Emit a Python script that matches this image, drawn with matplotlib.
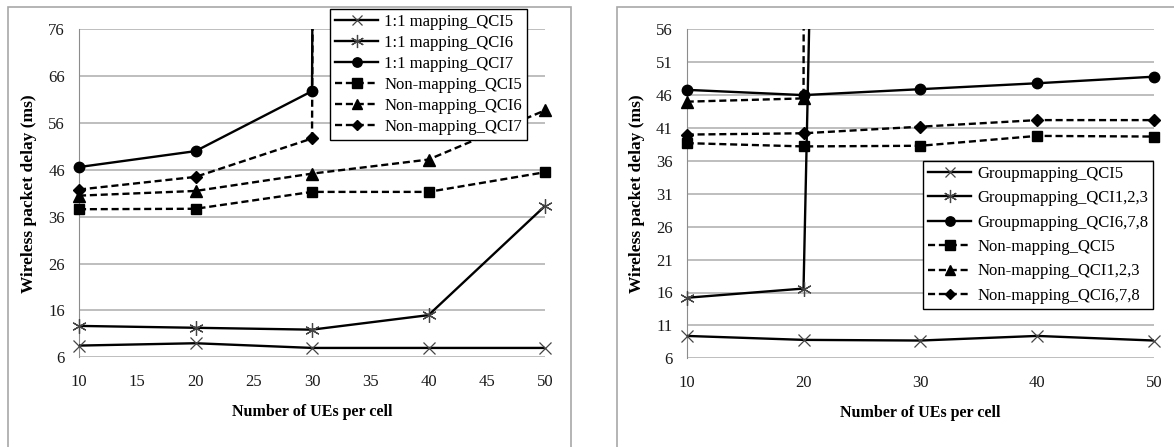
import matplotlib
matplotlib.use("Agg")
import matplotlib.pyplot as plt
from matplotlib.lines import Line2D
from matplotlib.patches import Rectangle

plt.rcParams["font.family"] = ["Liberation Serif", "DejaVu Serif"]

# left panel: 1:1 mapping vs non-mapping
ues_left = [10, 20, 30, 40, 50]
left_labels = ["1:1 mapping_QCI5", "1:1 mapping_QCI6", "1:1 mapping_QCI7",
               "Non-mapping_QCI5", "Non-mapping_QCI6", "Non-mapping_QCI7"]
map_qci5 = [8.5, 9.0, 8.0, 8.0, 8.0]
map_qci6 = [12.7, 12.3, 11.9, 15.0, 38.3]
map_qci7 = [46.6, 50.0, 62.8, 5000, 5000]     # off the chart after 30 UEs
non_qci5 = [37.6, 37.7, 41.3, 41.3, 45.5]
non_qci6 = [40.5, 41.5, 45.2, 48.2, 58.7]
non_qci7 = [41.8, 44.5, 52.7, 5000, 5000]     # off the chart after 30 UEs

# right panel: group mapping vs non-mapping
ues_right = [10, 20, 30, 40, 50]
right_labels = ["Groupmapping_QCI5", "Groupmapping_QCI1,2,3", "Groupmapping_QCI6,7,8",
                "Non-mapping_QCI5", "Non-mapping_QCI1,2,3", "Non-mapping_QCI6,7,8"]
grp_qci5 = [9.4, 8.8, 8.7, 9.4, 8.7]
grp_qci123 = [15.2, 16.6, 840, 840, 840]      # off the chart after 20 UEs
grp_qci678 = [46.8, 46.0, 46.9, 47.8, 48.8]
non2_qci5 = [38.7, 38.2, 38.3, 39.8, 39.7]
non2_qci123 = [45.0, 45.5, 9000, 9000, 9000]  # off the chart after 20 UEs
non2_qci678 = [40.0, 40.2, 41.2, 42.2, 42.2]

DASH = (0, (3.0, 1.6))
STYLES = [
    dict(ls="-", marker="x", ms=8.5, mew=0.9, mec="#444444"),
    dict(ls="-", marker=(6, 2, 0), ms=10.5, mew=0.9, mec="#444444"),
    dict(ls="-", marker="o", ms=7.5, mew=1, mec="black"),
    dict(ls=DASH, marker="s", ms=7.5, mew=1, mec="black"),
    dict(ls=DASH, marker="^", ms=8, mew=1, mec="black"),
    dict(ls=DASH, marker="D", ms=6, mew=1, mec="black"),
]
W, H = 1174, 447


def draw_panel(ax, x, series, labels, ylim, yticks, xticks, legend_anchor, rowgap):
    handles = []
    for y, lab, st in zip(series, labels, STYLES):
        ax.plot(x, y, color="black", lw=1.7, ls=st["ls"], zorder=3)
        xv = [a for a, b in zip(x, y) if b <= ylim[1]]
        yv = [b for b in y if b <= ylim[1]]
        ax.plot(xv, yv, ls="none", marker=st["marker"], ms=st["ms"], mew=st["mew"],
                mfc="black", mec=st["mec"], clip_on=False, zorder=4)
        handles.append(Line2D([], [], color="black", lw=1.7, ls=st["ls"], marker=st["marker"],
                              ms=st["ms"] * 0.9, mew=st["mew"], mfc="black", mec=st["mec"],
                              label=lab))
    ax.set_xlim(x[0], x[-1])
    ax.set_ylim(*ylim)
    ax.set_yticks(yticks)
    ax.set_xticks(xticks)
    ax.yaxis.grid(True, color="#b3b3b3", lw=1.2)
    ax.set_axisbelow(True)
    for s in ["top", "right", "bottom"]:
        ax.spines[s].set_visible(False)
    ax.spines["left"].set_color("#8c8c8c")
    ax.tick_params(length=0, labelsize=12, colors="#1a1a1a")
    ax.tick_params(axis="y", pad=10)
    ax.tick_params(axis="x", pad=12)
    ax.set_xlabel("Number of UEs per cell", fontsize=11.5, fontweight="bold", labelpad=10)
    ax.set_ylabel("Wireless packet delay (ms)", fontsize=12.5, fontweight="bold", labelpad=8)
    leg = ax.legend(handles=handles, loc="upper left", bbox_to_anchor=legend_anchor,
                    bbox_transform=fig.transFigure, borderaxespad=0, fancybox=False,
                    frameon=True, fontsize=12, handlelength=2.6, handletextpad=0.35,
                    labelspacing=rowgap, borderpad=0.3, framealpha=1)
    leg.get_frame().set_edgecolor("black")
    leg.get_frame().set_linewidth(1.0)
    leg.set_zorder(10)


fig = plt.figure(figsize=(W / 100, H / 100), dpi=100)

# panel frames
fig.add_artist(Rectangle((8 / W, -0.1), 562.7 / W, 1.1 - 7 / H, transform=fig.transFigure,
                         fill=False, ec="#a8a8a8", lw=1.2))
fig.add_artist(Rectangle((616.7 / W, -0.1), 0.6, 1.1 - 7 / H, transform=fig.transFigure,
                         fill=False, ec="#a8a8a8", lw=1.2))

ax1 = fig.add_axes([79 / W, 1 - 357.3 / H, 466 / W, 328 / H])
draw_panel(ax1, ues_left, [map_qci5, map_qci6, map_qci7, non_qci5, non_qci6, non_qci7],
           left_labels, (6, 76), range(6, 77, 10), range(10, 51, 5),
           (330 / W, 1 - 9.3 / H), 0.3)

ax2 = fig.add_axes([686.7 / W, 1 - 358.3 / H, 467.3 / W, 329 / H])
draw_panel(ax2, ues_right, [grp_qci5, grp_qci123, grp_qci678, non2_qci5, non2_qci123, non2_qci678],
           right_labels, (6, 56), range(6, 57, 5), range(10, 51, 10),
           (923 / W, 1 - 161 / H), 0.5)

fig.savefig("out.png", dpi=100)
